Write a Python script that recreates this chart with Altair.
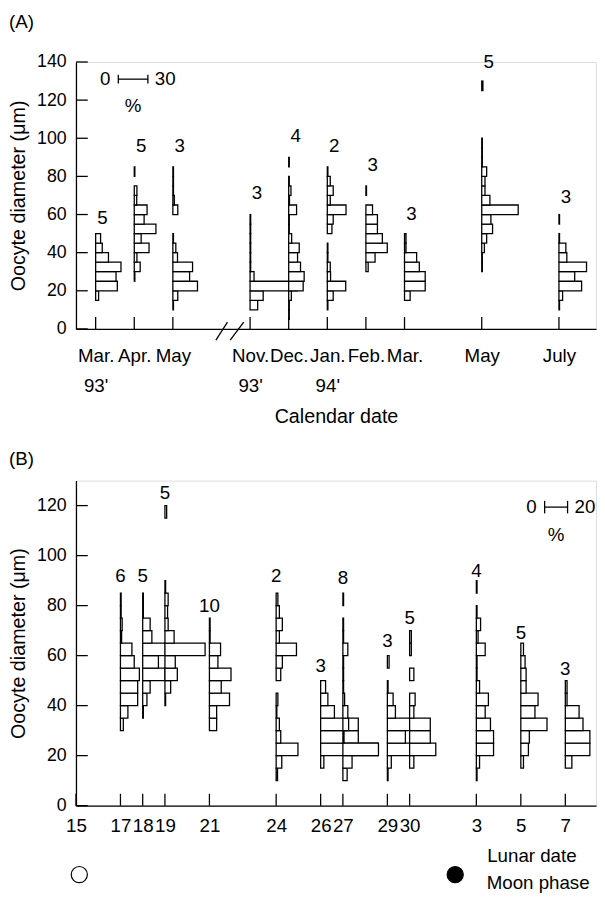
import json
import altair as alt
import pandas as pd

FONT = "Liberation Sans"
BIN = 5  # um, width of one diameter class

# ---------------- (A) calendar date ----------------
a_tick_labels = ["Mar.|93'", "Apr.", "May", "Nov.|93'", "Dec.", "Jan.|94'",
                 "Feb.", "Mar.", "May", "July"]
a_months = [0, 1, 2, 8, 9, 10, 11, 12, 14, 16]      # months after Mar. 93
A_SKIP = 4                                          # months cut out at the axis break
a_n = [5, 5, 3, 3, 4, 2, 3, 3, 5, 3]
a_n_y = [58, 96, 96, 71, 101, 96, 86, 60, 140, 69]
a_bin0 = [15, 25, 10, 10, 5, 10, 30, 15, 30, 10]    # lower edge of first class
a_mar93 = [3, 22, 20.7, 25.7, 13, 6.7, 5]
a_apr93 = [0.6, 6, 2.7, 15, 7, 22, 10, 13, 2.5, 2.7, 0, 0.6]
a_may93 = [0.6, 5, 25, 17, 20, 4.7, 3, 0.6, 0, 0, 5, 1.5, 0.6, 0.6, 0.6]
a_nov93 = [7.7, 13.3, 48, 4, 0.6, 0.6, 0.6, 0.6, 0.6, 0.6]
a_dec93 = [0.6, 0.6, 2.7, 14.7, 15.7, 12, 9, 10.7, 3, 0.6, 0.6, 8, 0.8, 2.3, 0.6, 0, 0.6]
a_jan94 = [0.6, 6, 18.7, 3.3, 3, 0.6, 0.6, 0, 4.7, 6, 19, 3, 6, 3, 0.6]
a_feb94 = [2.3, 9.3, 21.7, 16.7, 11.7, 11.7, 6.7, 0, 0.6]
a_mar94 = [5.7, 21, 21, 15, 12.3, 1.5, 1.5]
a_may94 = [0.6, 0.6, 2.7, 5, 11, 9.3, 37, 8.3, 3.3, 3.3, 5, 0.6, 0.6, 0.6, 0, 0, 0, 0, 0, 1.2]
a_jul94 = [0.6, 3.7, 23, 16, 28, 8, 7, 0.6, 0, 0.6]
a_hists = [a_mar93, a_apr93, a_may93, a_nov93, a_dec93, a_jan94, a_feb94,
           a_mar94, a_may94, a_jul94]
a_y_ticks = [0, 20, 40, 60, 80, 100, 120, 140]

# ---------------- (B) lunar date ----------------
b_lunar = [17, 18, 19, 21, 24, 26, 27, 29, 30, 3, 5, 7]
b_first_tick = 15
b_n = [6, 5, 5, 10, 2, 3, 8, 3, 5, 4, 5, 3]
b_n_y = [92, 92, 125, 80, 92, 56, 91, 66, 75, 94, 69, 54.5]
b_bin0 = [30, 35, 40, 30, 10, 15, 10, 10, 15, 10, 15, 15]
b_d17 = [2.5, 6.5, 15, 15, 16.5, 12, 10, 1, 1.5, 0.6, 0.6]
b_d18 = [0.6, 3.7, 6.5, 19.4, 13.7, 19.7, 8, 6.5, 0.6, 0.6]
b_d19 = [0.6, 5, 10.8, 9, 35, 8, 2.8, 2.3, 2.8, 0.6, 0, 0, 0, 0, 0, 1.5]
b_d21 = [6.3, 6.3, 17.5, 10.3, 18.8, 7.4, 9.7, 0.6, 0.6]
b_d24 = [1.2, 4.9, 19, 4, 2.8, 0.6, 1.5, 0, 4, 5.4, 17.7, 2.8, 5.4, 2.8, 1.5]
b_d26 = [2.8, 50, 32.8, 32.8, 12, 6.3, 4.3]
b_d27 = [3.7, 8, 31, 1, 5, 4.3, 1.5, 0.6, 0.6, 0.6, 4.3, 0.6, 0.6, 0, 0.6]
b_d29 = [0.6, 3.4, 23, 15.7, 20, 7, 5, 0.6, 0, 1.5]
b_d30 = [3.7, 22.8, 18, 18, 3.7, 4.8, 0, 3.7, 0, 1.5, 1.5]
b_d3 = [0.6, 2.8, 15, 15, 12.3, 7.7, 10.5, 2.8, 0.6, 0.6, 7.7, 1.5, 3.7, 0.6, 0, 0.6]
b_d5 = [2.3, 6.6, 7.4, 22.8, 12.3, 15, 4.6, 4.6, 3.7, 2.3]
b_d7 = [5.7, 21.4, 21.4, 15.4, 12, 1.5, 1.5]
b_hists = [b_d17, b_d18, b_d19, b_d21, b_d24, b_d26, b_d27, b_d29, b_d30,
           b_d3, b_d5, b_d7]
b_y_ticks = [0, 20, 40, 60, 80, 100, 120]
b_moon_day = [15.15, 32.05]
b_moon_fill = ["white", "black"]

# ---------------- layout constants ----------------
W = 528
HA = 271
HB = 330
KA = 1 / 39.2          # x units per percent (A)
KB = 1.165 / 22.585    # x units per percent (B)
A_XDOM = [-0.51, 12.96]
B_XDOM = [15, 38.38]
A_BAR = dict(x0=0.587, pct=30, y=131, half=2.3, pct_y=116.7)
B_BAR = dict(x0=36.07, pct=20, y=119.4, half=2.5, pct_y=108.4)
A_BREAK = 3.465
SW = 1.3
FS = 19

a_pos = [m - A_SKIP if m > 2 else m for m in a_months]
b_pos = [d if d >= b_first_tick else d + 30 for d in b_lunar]
b_ticks = [b_first_tick] + b_pos


def hist_frame(pos, bin0, hists):
    rows = []
    for p, b0, h in zip(pos, bin0, hists):
        for j, pct in enumerate(h):
            if pct > 0:
                lo = b0 + j * BIN
                rows.append({"pos": p, "lo": lo, "hi": lo + BIN, "pct": pct})
    return pd.DataFrame(rows)


def panel(pos, bin0, hists, n, n_y, k, xdom, ydom, h, xaxis, yaxis, yticks,
          xticks, bar, n_dx, tick_len, title, title_offset, extra=None):
    xs = alt.Scale(domain=xdom, nice=False, zero=False)
    ys = alt.Scale(domain=ydom, nice=False, zero=False)

    def X(f):
        return alt.X(f, scale=xs, axis=xaxis)

    def Y(f):
        return alt.Y(f, scale=ys, axis=yaxis)

    hist = alt.Chart(hist_frame(pos, bin0, hists)).transform_calculate(
        x2=f"datum.pos + datum.pct * {k}"
    ).mark_rect(fill="white", stroke="black", strokeWidth=SW).encode(
        x=X("pos:Q"), x2="x2:Q", y=Y("lo:Q"), y2="hi:Q",
    )
    labels = alt.Chart(pd.DataFrame({"pos": pos, "n": n, "y": n_y})).mark_text(
        fontSize=FS, font=FONT, baseline="middle", align="center", dx=n_dx
    ).encode(x=X("pos:Q"), y=Y("y:Q"), text="n:N")
    xt = alt.Chart(pd.DataFrame({"pos": xticks})).mark_rule(
        color="black", strokeWidth=SW
    ).encode(x=X("pos:Q"), y=alt.value(h), y2=alt.value(h - tick_len))
    yt = alt.Chart(pd.DataFrame({"v": yticks})).mark_rule(
        color="black", strokeWidth=SW
    ).encode(y=Y("v:Q"), x=alt.value(0), x2=alt.value(tick_len))
    x0 = bar["x0"]
    x1 = x0 + bar["pct"] * k
    sb = pd.DataFrame({"x0": [x0], "x1": [x1], "y": [bar["y"]]})
    sbar = alt.Chart(sb).mark_rule(color="black", strokeWidth=SW).encode(
        x=X("x0:Q"), x2="x1:Q", y=Y("y:Q"),
    )
    ends = pd.DataFrame({"x": [x0, x1], "ya": [bar["y"] - bar["half"]] * 2,
                         "yb": [bar["y"] + bar["half"]] * 2})
    sends = alt.Chart(ends).mark_rule(color="black", strokeWidth=SW).encode(
        x=X("x:Q"), y=Y("ya:Q"), y2="yb:Q",
    )
    st = pd.DataFrame({
        "x": [x0, x1, (x0 + x1) / 2],
        "y": [bar["y"], bar["y"], bar["pct_y"]],
        "t": ["0", str(bar["pct"]), "%"],
    })
    stxt0 = alt.Chart(st.iloc[[0]]).mark_text(
        fontSize=FS, font=FONT, align="right", baseline="middle", dx=-8
    ).encode(x=X("x:Q"), y=Y("y:Q"), text="t:N")
    stxt1 = alt.Chart(st.iloc[[1]]).mark_text(
        fontSize=FS, font=FONT, align="left", baseline="middle", dx=7
    ).encode(x=X("x:Q"), y=Y("y:Q"), text="t:N")
    stxt2 = alt.Chart(st.iloc[[2]]).mark_text(
        fontSize=FS, font=FONT, align="center", baseline="middle"
    ).encode(x=X("x:Q"), y=Y("y:Q"), text="t:N")
    layers = [hist, labels, xt, yt, sbar, sends, stxt0, stxt1, stxt2]
    if extra is not None:
        layers += extra(X, Y)
    return alt.layer(*layers).properties(
        width=W, height=h,
        title=alt.TitleParams(title, anchor="start", frame="bounds", fontSize=FS,
                              fontWeight="normal", font=FONT, offset=title_offset,
                              baseline="top"),
    )


label_expr_a = (
    f"split({json.dumps(a_tick_labels)}[indexof({json.dumps(a_pos)}, datum.value)], '|')"
)

xaxis_a = alt.Axis(values=a_pos, labelExpr=label_expr_a, ticks=False, tickSize=0,
                   grid=False, labelPadding=33, labelLineHeight=31, labelFontSize=FS,
                   labelBaseline="alphabetic", labelOverlap=False, labelFlush=False,
                   title="Calendar date", titleFontSize=20, titleFontWeight="normal",
                   titleY=95, titleBaseline="alphabetic")
yaxis_a = alt.Axis(values=a_y_ticks, ticks=False, tickSize=0, grid=False,
                   labelPadding=10, labelFontSize=18, title="Oocyte diameter (μm)",
                   titleFontSize=20, titleFontWeight="normal", titlePadding=8)

xaxis_b = alt.Axis(values=b_ticks,
                   labelExpr="datum.value > 30 ? datum.value - 30 : datum.value",
                   ticks=False, tickSize=0, grid=False, labelPadding=26.5,
                   labelFontSize=FS, labelBaseline="alphabetic", labelOverlap=False,
                   labelFlush=False, title="Lunar date", titleFontSize=FS,
                   titleFontWeight="normal", titleX=417, titleY=57,
                   titleAlign="left", titleBaseline="alphabetic")
yaxis_b = alt.Axis(values=b_y_ticks, ticks=False, tickSize=0, grid=False,
                   labelPadding=10, labelFontSize=18, title="Oocyte diameter (μm)",
                   titleFontSize=20, titleFontWeight="normal", titlePadding=8)


def a_extra(X, Y):
    br = pd.DataFrame({
        "x": [A_BREAK - 0.35, A_BREAK + 0.02],
        "x2": [A_BREAK - 0.05, A_BREAK + 0.37],
        "y": [-5.9, -5.9], "y2": [3.6, 3.6],
    })
    return [alt.Chart(br).mark_rule(color="black", strokeWidth=SW).encode(
        x=X("x:Q"), x2="x2:Q", y=Y("y:Q"), y2="y2:Q")]


def b_extra(X, Y):
    moon = pd.DataFrame({"day": b_moon_day, "fill": b_moon_fill})
    circles = alt.Chart(moon).mark_point(
        shape="circle", filled=True, stroke="black", strokeWidth=1.2, size=270,
        opacity=1
    ).encode(
        x=X("day:Q"),
        y=alt.value(HB + 70),
        fill=alt.Fill("fill:N", scale=None),
    )
    txt = alt.Chart(pd.DataFrame({"t": ["Moon phase"]})).mark_text(
        fontSize=FS, font=FONT, align="left", baseline="alphabetic"
    ).encode(x=alt.value(417), y=alt.value(HB + 85), text="t:N")
    return [circles, txt]


panel_a = panel(a_pos, a_bin0, a_hists, a_n, a_n_y, KA, A_XDOM, [0, 140], HA,
                xaxis_a, yaxis_a, a_y_ticks, a_pos, A_BAR, 7, 12, "(A)", 22,
                extra=a_extra)
panel_b = panel(b_pos, b_bin0, b_hists, b_n, b_n_y, KB, B_XDOM, [0, 130], HB,
                xaxis_b, yaxis_b, b_y_ticks, b_ticks, B_BAR, 0, 12, "(B)", 12,
                extra=b_extra)

chart = alt.vconcat(panel_a, panel_b, spacing=22).properties(
    padding={"left": 0, "top": -3, "right": 0, "bottom": 0},
    background="white",
).configure_view(strokeWidth=0, stroke="transparent").configure(font=FONT).configure_axis(
    domainColor="black", domainWidth=SW, labelColor="black", titleColor="black",
    labelFont=FONT, titleFont=FONT,
)

chart.save("out.html", embed_options={"renderer": "svg", "actions": False})
